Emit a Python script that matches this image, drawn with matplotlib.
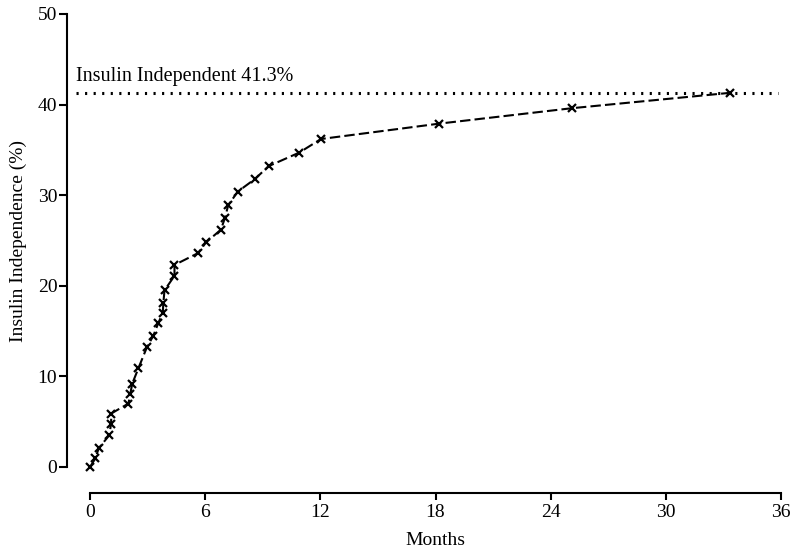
import matplotlib
matplotlib.use("Agg")
import matplotlib.pyplot as plt

plt.rcParams.update({
    "font.family": ["Liberation Serif", "DejaVu Serif"],
    "font.size": 14,
})

# cumulative insulin independence over time
months = [0, 0.28, 0.45, 1.0, 1.1, 1.1, 2.0, 2.1, 2.2, 2.52, 2.96, 3.30,
          3.56, 3.79, 3.82, 3.88, 4.40, 4.40, 5.62, 6.05, 6.82, 7.03, 7.2,
          7.7, 8.6, 9.3, 10.9, 12.03, 18.2, 25.1, 33.35]
pct = [0, 0.96, 2.06, 3.5, 4.8, 5.9, 7.0, 8.1, 9.2, 10.9, 13.2, 14.5,
       15.9, 17.0, 18.1, 19.5, 21.1, 22.3, 23.6, 24.8, 26.2, 27.5, 28.9,
       30.4, 31.8, 33.2, 34.7, 36.2, 37.9, 39.6, 41.3]
final_pct = 41.3
x_ticks = [0, 6, 12, 18, 24, 30, 36]
y_ticks = [0, 10, 20, 30, 40, 50]

fig = plt.figure(figsize=(8.0, 5.53), dpi=100)
ax = fig.add_axes([0.08375, 0.1085, 0.8925, 0.8662])

ax.plot(months, pct, color="black", linewidth=1.5, dashes=(5, 2),
        marker="x", markersize=6, markeredgewidth=1.6)

ax.axhline(final_pct, xmin=0.013, xmax=0.996, color="black",
           linewidth=2.2, dashes=(0.7, 2.1))
ax.text(-0.75, final_pct + 1.3, f"Insulin Independent {final_pct}%",
        fontsize=14.5, ha="left", va="baseline")

ax.set_xlim(-1.2, 36)
ax.set_ylim(-2.87, 50)
ax.set_xticks(x_ticks)
ax.set_yticks(y_ticks)

for side in ["top", "right"]:
    ax.spines[side].set_visible(False)
ax.spines["left"].set_bounds(0, 50)
ax.spines["bottom"].set_bounds(0, 36)
ax.spines["left"].set_linewidth(1.5)
ax.spines["bottom"].set_linewidth(1.5)
ax.tick_params(direction="out", width=1.5, labelsize=14)
ax.tick_params(axis="x", length=5, pad=3)
ax.tick_params(axis="y", length=6, pad=1)

# labels centred on the spine ranges, not the full axes box
ax.set_xlabel("Months", fontsize=14, labelpad=8, x=0.516)
ax.set_ylabel("Insulin Independence (%)", fontsize=14, labelpad=8, y=0.527)

fig.savefig("out.png", dpi=100)
